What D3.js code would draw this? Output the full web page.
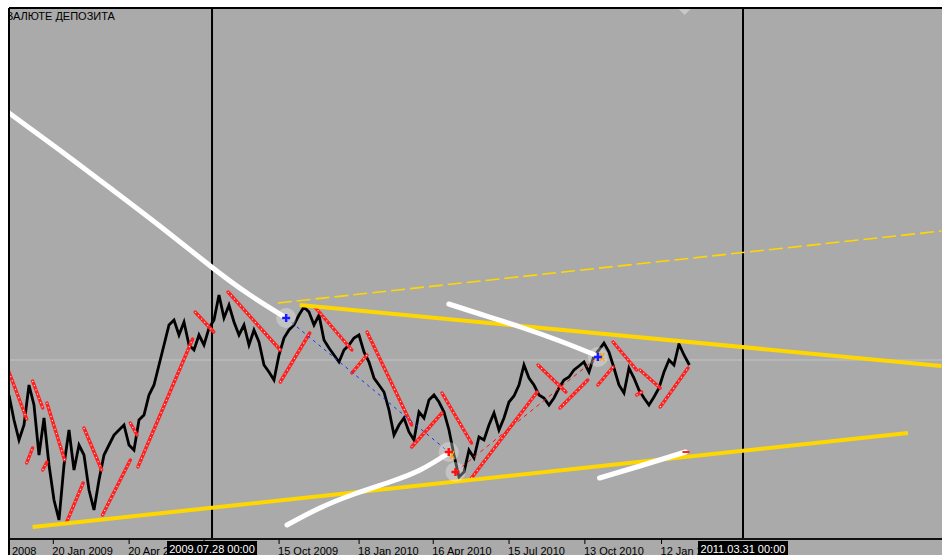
<!DOCTYPE html>
<html><head><meta charset="utf-8">
<script src="https://cdn.jsdelivr.net/npm/d3@7"></script>
<style>html,body{margin:0;padding:0;background:#fff;}svg{display:block;}</style>
</head><body>
<svg id="c" width="942" height="555"></svg>
<script>
// ---------- data ----------
const priceStart = "2008-11-29";
const priceStepDays = 5.935;
const priceValues = [144,119,99,114,154,134,84,121,74,39,19,74,109,69,94,84,49,29,59,84,
  94,104,109,114,94,89,119,124,144,154,174,194,214,219,204,217,194,189,204,194,
  211,219,244,221,234,217,204,214,194,209,197,174,167,159,184,201,209,214,224,232,
  227,214,224,199,191,184,177,189,194,201,204,187,177,161,154,147,129,104,114,121,
  107,99,127,121,139,144,137,127,109,84,62,67,89,81,102,99,114,126,109,121,
  137,143,154,174,161,154,144,141,134,141,151,159,162,169,173,177,167,183,189,196,
  187,171,154,146,171,161,149,141,134,142,151,167,179,174,195,184,174];
const timeBreaks = ["2008-11-29", "2011-02-13", "2011-03-31"];
const priceDomain = [0, 531];
const tickDates = ["2008-10-22","2009-01-20","2009-04-20","2009-07-18","2009-10-15","2010-01-18","2010-04-16","2010-07-15","2010-10-13","2011-01-12"];
const tickLabels = ["22 Oct 2008","20 Jan 2009","20 Apr 2009","","15 Oct 2009","18 Jan 2010","16 Apr 2010","15 Jul 2010","13 Oct 2010","12 Jan 2011"];
const markerDates = ["2009-07-28", "2011-03-31"];
const markerLabels = ["2009.07.28 00:00", "2011.03.31 00:00"];
const bidPrice = 179;
const trendSolid = [["2008-12-27",12,"2011-08-16",106],["2009-11-09",234,"2011-09-13",173]];
const trendDashed = [["2009-10-14",236,"2011-09-13",308]];
const whiteArcs = [
  [["2008-11-29",426],["2009-01-28",389],["2009-03-29",351],["2009-05-27",313],["2009-07-29",271],["2009-09-11",244],["2009-10-24",221]],
  [["2009-10-25",14],["2009-12-03",31],["2010-01-13",45],["2010-02-24",57],["2010-04-01",69],["2010-05-05",86]],
  [["2010-05-05",235],["2010-06-11",225],["2010-07-29",212],["2010-09-14",198],["2010-10-26",184]],
  [["2010-10-31",61],["2010-12-18",73],["2011-02-10",87]]
];
const sarSegments = [
  ["2008-11-29",167,"2008-12-20",120],["2008-12-20",76,"2008-12-27",91],
  ["2008-12-27",158,"2009-01-08",131],["2009-01-08",69,"2009-01-13",77],
  ["2009-01-13",136,"2009-02-03",79],["2009-02-05",16,"2009-02-25",56],
  ["2009-02-26",111,"2009-03-19",69],["2009-03-20",24,"2009-04-22",79],
  ["2009-04-22",116,"2009-04-30",104],["2009-05-01",72,"2009-07-05",200],
  ["2009-07-08",227,"2009-07-30",207],["2009-08-16",247,"2009-10-17",189],
  ["2009-10-17",157,"2009-11-21",206],["2009-11-27",232,"2010-01-10",189],
  ["2010-01-10",166,"2010-01-28",184],["2010-01-28",207,"2010-03-22",114],
  ["2010-03-22",92,"2010-04-27",126],["2010-04-27",146,"2010-06-01",96],
  ["2010-06-01",61,"2010-08-18",147],["2010-08-19",174,"2010-09-21",147],
  ["2010-09-14",131,"2010-10-17",159],["2010-10-29",154,"2010-11-16",172],
  ["2010-11-16",197,"2010-12-14",169],["2010-12-14",144,"2010-12-20",147],
  ["2010-12-18",169,"2011-01-11",151],["2011-01-11",132,"2011-02-13",171]
];
const blueCrosses = [["2009-10-24",221],["2010-10-29",182]];
const redCrosses = [["2010-05-05",87],["2010-05-13",67]];
const orangeMarks = [["2010-05-09",84],["2010-11-03",182]];
const blueLink = [["2009-10-24",221],["2010-05-05",87]];
const redLink = [["2010-05-13",67],["2010-10-29",182]];
const headerText = "ВАЛЮТЕ ДЕПОЗИТА";
const arrowDate = "2011-02-09";

// ---------- setup ----------
const P = d3.utcParse("%Y-%m-%d");
const L = 9, T = 8, R = 942, B = 539, H = 555;
const svg = d3.select("#c");
const x = d3.scaleUtc().domain(timeBreaks.map(P)).range([9, 688, 743]);
const y = d3.scaleLinear().domain(priceDomain).range([B, T]);

svg.append("defs").append("clipPath").attr("id","clip")
  .append("rect").attr("x",L).attr("y",T).attr("width",R-L).attr("height",H-T);
svg.append("defs").append("clipPath").attr("id","plot")
  .append("rect").attr("x",L).attr("y",T).attr("width",R-L).attr("height",B-T);

svg.append("rect").attr("x",L).attr("y",T).attr("width",R-L).attr("height",H-T).attr("fill","#aaaaaa");

const g = svg.append("g").attr("clip-path","url(#plot)");

// bid line
g.append("line").attr("x1",L).attr("x2",R).attr("y1",y(bidPrice)).attr("y2",y(bidPrice))
  .attr("stroke","#c4c4c4").attr("stroke-width",1);

// vertical lines
markerDates.forEach(d=>{
  g.append("line").attr("x1",x(P(d))).attr("x2",x(P(d))).attr("y1",T).attr("y2",B)
   .attr("stroke","#000").attr("stroke-width",2);
});

// header
g.append("text").attr("x",6).attr("y",20).text(headerText)
  .attr("font-family","'Liberation Sans', Arial, sans-serif").attr("font-size",11).attr("fill","#000");

// top arrow
const ax = x(P(arrowDate));
g.append("path").attr("d",`M${ax-6},${T+1}L${ax+6},${T+1}L${ax},${T+7}Z`).attr("fill","#c8c8c8");

// price
const dates = priceValues.map((v,i)=>new Date(+P(priceStart) + i*priceStepDays*864e5));
const priceLine = d3.line().x((d,i)=>x(dates[i])).y(d=>y(d));
g.append("path").attr("d",priceLine(priceValues)).attr("fill","none")
  .attr("stroke","#000").attr("stroke-width",2.8).attr("stroke-linejoin","miter");

// SAR segments
sarSegments.forEach(s=>{
  const a=[x(P(s[0])),y(s[1])], b=[x(P(s[2])),y(s[3])];
  g.append("line").attr("x1",a[0]).attr("y1",a[1]).attr("x2",b[0]).attr("y2",b[1])
   .attr("stroke","#ff2020").attr("stroke-width",3.4).attr("stroke-linecap","round");
  g.append("line").attr("x1",a[0]).attr("y1",a[1]).attr("x2",b[0]).attr("y2",b[1])
   .attr("stroke","#ffffff").attr("stroke-width",1.1).attr("stroke-dasharray","1,3.5");
});

// links
const link = (pts,col,dash)=> g.append("line")
  .attr("x1",x(P(pts[0][0]))).attr("y1",y(pts[0][1])).attr("x2",x(P(pts[1][0]))).attr("y2",y(pts[1][1]))
  .attr("stroke",col).attr("stroke-width",1).attr("stroke-dasharray",dash);
link(blueLink,"#1030ff","3,4");
link(redLink,"#ff1010","4,4");

// trend lines
trendSolid.forEach(t=>{
  g.append("line").attr("x1",x(P(t[0]))).attr("y1",y(t[1])).attr("x2",x(P(t[2]))).attr("y2",y(t[3]))
   .attr("stroke","#ffd700").attr("stroke-width",4);
});
trendDashed.forEach(t=>{
  g.append("line").attr("x1",x(P(t[0]))).attr("y1",y(t[1])).attr("x2",x(P(t[2]))).attr("y2",y(t[3]))
   .attr("stroke","#ffd700").attr("stroke-width",1.6).attr("stroke-dasharray","14,5");
});

// white arcs
const arcLine = d3.line().x(d=>x(P(d[0]))).y(d=>y(d[1])).curve(d3.curveNatural);
whiteArcs.forEach(a=>{
  g.append("path").attr("d",arcLine(a)).attr("fill","none").attr("stroke","#ffffff")
   .attr("stroke-width",5).attr("stroke-linecap","round");
});
{
  const last = whiteArcs[3][whiteArcs[3].length-1];
  g.append("line").attr("x1",x(P(last[0]))-3).attr("x2",x(P(last[0]))+4)
   .attr("y1",y(last[1])).attr("y2",y(last[1])).attr("stroke","#ff2020").attr("stroke-width",2);
}

// halos
[...blueCrosses, ...redCrosses].forEach(p=>{
  g.append("circle").attr("cx",x(P(p[0]))).attr("cy",y(p[1])).attr("r",10)
   .attr("fill","#ffffff").attr("fill-opacity",0.3);
});
orangeMarks.forEach(p=>{
  const cx=x(P(p[0])), cy=y(p[1]);
  g.append("path").attr("d",`M${cx-2},${cy-4}L${cx+2},${cy+4}M${cx+2},${cy-4}L${cx-2},${cy+4}`)
   .attr("stroke","#ffa500").attr("stroke-width",1.5);
});
const cross = (p,col)=>{
  const cx=x(P(p[0])), cy=y(p[1]);
  g.append("path").attr("d",`M${cx-4},${cy}L${cx+4},${cy}M${cx},${cy-4}L${cx},${cy+4}`)
   .attr("stroke",col).attr("stroke-width",2.5);
};
blueCrosses.forEach(p=>cross(p,"#1a1aff"));
redCrosses.forEach(p=>cross(p,"#ff1010"));

// axis
const axG = svg.append("g").attr("clip-path","url(#clip)");
axG.append("line").attr("x1",L).attr("x2",R).attr("y1",B).attr("y2",B).attr("stroke","#111").attr("stroke-width",2);
const axis = d3.axisBottom(x).tickValues(tickDates.map(P))
  .tickFormat((d,i)=>tickLabels[i]).tickSize(5).tickPadding(3).tickSizeOuter(0);
const ag = axG.append("g").attr("transform",`translate(0,${B})`).call(axis);
ag.select(".domain").remove();
ag.selectAll(".tick line").attr("stroke","#000");
ag.selectAll(".tick text").attr("text-anchor","start").attr("x",-1)
  .attr("font-family","'Liberation Sans', Arial, sans-serif").attr("font-size",11).attr("fill","#000");

markerDates.forEach((d,i)=>{
  const cx = x(P(d));
  axG.append("rect").attr("x",cx-45).attr("y",B+2).attr("width",90).attr("height",H-B-2).attr("fill","#000");
  axG.append("text").attr("x",cx).attr("y",B+14).attr("text-anchor","middle").text(markerLabels[i])
   .attr("font-family","'Liberation Sans', Arial, sans-serif").attr("font-size",11).attr("fill","#fff");
});
// tick above the first box stays visible
ag.selectAll(".tick line").raise();
axG.selectAll(".tick").raise();

// frame
svg.append("line").attr("x1",L).attr("x2",R).attr("y1",T).attr("y2",T).attr("stroke","#000").attr("stroke-width",2);
svg.append("line").attr("x1",L).attr("x2",L).attr("y1",T).attr("y2",H).attr("stroke","#000").attr("stroke-width",2);
</script>
</body></html>
